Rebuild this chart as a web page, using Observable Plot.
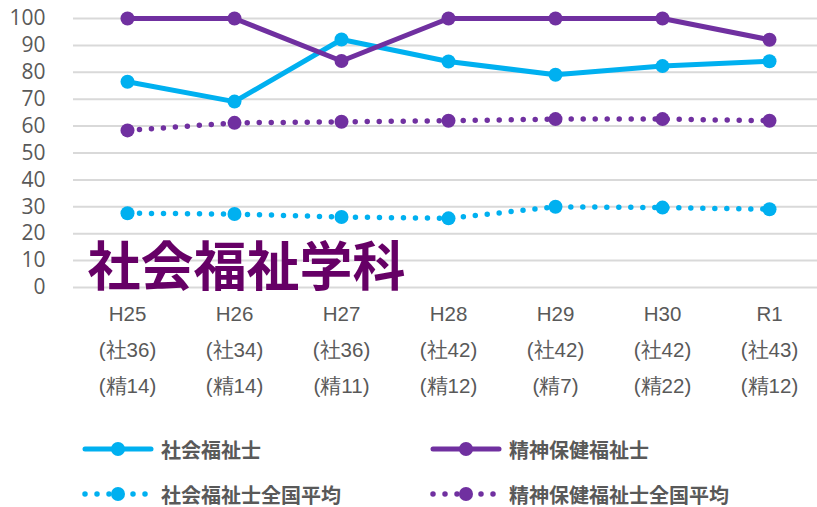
<!DOCTYPE html>
<html><head><meta charset="utf-8">
<script src="https://cdn.jsdelivr.net/npm/d3@7"></script>
<script src="https://cdn.jsdelivr.net/npm/@observablehq/plot@0.6"></script>
<style>
body{margin:0;background:#fff;}
#chart{position:relative;width:817px;height:507px;overflow:hidden;}
.legend{position:absolute;left:0;top:420px;width:817px;height:87px;font-family:"Noto Sans CJK JP";font-weight:bold;font-size:20px;color:#595959;}
.item{position:absolute;display:flex;align-items:center;height:30px;white-space:nowrap;}
.item svg{margin-right:7px;display:block}
</style></head><body><div id="chart"></div>
<script>
const years = ["H25","H26","H27","H28","H29","H30","R1"];
const shaCounts = [36,34,36,42,42,42,43];
const seiCounts = [14,14,11,12,7,22,12];
const shakai = [76.5,69.1,92.2,84.0,79.1,82.3,84.1];
const seishin = [100,100,84.2,100,100,100,92.1];
const shakaiAvg = [27.6,27.3,26.2,25.7,30.0,29.7,29.1];
const seishinAvg = [58.4,61.2,61.6,62.0,62.6,62.6,62.0];
const seriesNames = ["社会福祉士","精神保健福祉士","社会福祉士全国平均","精神保健福祉士全国平均"];
const seriesColors = ["#00B0F0","#7030A0","#00B0F0","#7030A0"];
const seriesDotted = [false,false,true,true];
const yTicks = [0,10,20,30,40,50,60,70,80,90,100];
const title = "社会福祉学科";

const seriesValues = [shakai, seishin, shakaiAvg, seishinAvg];
const marks = [
  Plot.ruleY(yTicks, {stroke:"#d9d9d9", strokeWidth:2}),
  Plot.axisY({ticks:yTicks, tickSize:0, tickPadding:28, fontSize:21, fontFamily:"Open Sans", label:null}),
  Plot.axisX({tickSize:0, tickPadding:8, fontSize:20.5, lineHeight:1.76, fontFamily:"Liberation Sans", label:null,
    tickFormat:(d) => { const i = years.indexOf(d); return `${d}\n(社${shaCounts[i]})\n(精${seiCounts[i]})`; }}),
  Plot.text([title], {frameAnchor:"bottom-left", textAnchor:"start", lineAnchor:"middle", dx:14, dy:-18,
    fontSize:53, fontWeight:"bold", fill:"#660066", fontFamily:"Noto Sans CJK JP"})
];
seriesNames.forEach((name, k) => {
  const data = years.map((y, i) => ({year:y, value:seriesValues[k][i]}));
  const opts = {x:"year", y:"value", stroke:seriesColors[k], strokeWidth:5, strokeLinecap:"round", strokeLinejoin:"round"};
  if (seriesDotted[k]) { opts.strokeDasharray = "0 12"; opts.strokeWidth = 5.5; }
  marks.push(Plot.line(data, opts));
  marks.push(Plot.dot(data, {x:"year", y:"value", r:7, fill:seriesColors[k], stroke:"none"}));
});

const chart = Plot.plot({
  width:817, height:420,
  marginLeft:73, marginRight:0, marginTop:18, marginBottom:133,
  style:{color:"#595959", background:"#fff", overflow:"visible"},
  x:{type:"point", domain:years, range:[126,769], padding:0},
  y:{domain:[0,100]},
  marks
});
const root = document.getElementById("chart");
root.appendChild(chart);

const legend = document.createElement("div");
legend.className = "legend";
const pos = [[82,14],[430,14],[82,59],[430,59]];
seriesNames.forEach((name,k) => {
  const it = document.createElement("div");
  it.className = "item";
  it.style.left = pos[k][0]+"px"; it.style.top = pos[k][1]+"px";
  const c = seriesColors[k];
  const line = seriesDotted[k]
    ? `<line x1="3" y1="10" x2="69" y2="10" stroke="${c}" stroke-width="5.5" stroke-linecap="round" stroke-dasharray="0 12"/>`
    : `<line x1="3" y1="10" x2="69" y2="10" stroke="${c}" stroke-width="5" stroke-linecap="round"/>`;
  it.innerHTML = `<svg width="72" height="20">${line}<circle cx="36" cy="10" r="7" fill="${c}"/></svg><span>${name}</span>`;
  legend.appendChild(it);
});
root.appendChild(legend);
</script></body></html>
